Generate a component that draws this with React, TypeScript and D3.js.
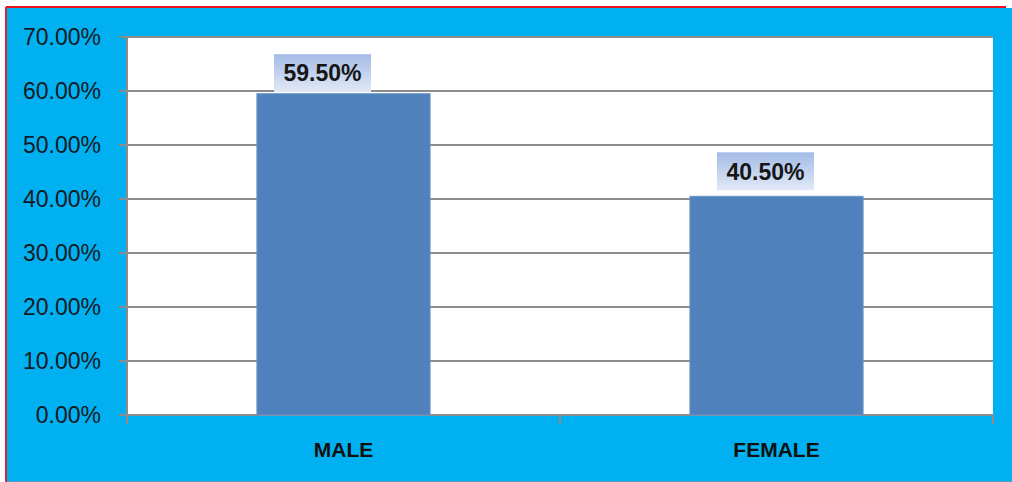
import React from "react";
import * as d3 from "d3";

const categories: string[] = ["MALE", "FEMALE"];
const values: number[] = [59.5, 40.5];
const yTicks: number[] = [0, 10, 20, 30, 40, 50, 60, 70];

const W = 1012;
const H = 482;
const plot = { left: 127, top: 37, right: 993, bottom: 415 };
// label nudges (layout only), as placed in the reference
const labelDx = [-21, -11];
const labelGap = [1.5, 6];

export default function App() {
  const x = d3
    .scaleBand<string>()
    .domain(categories)
    .range([plot.left, plot.right])
    .paddingInner(0.6)
    .paddingOuter(0.3);
  const y = d3.scaleLinear().domain([0, 70]).range([plot.bottom, plot.top]);
  const band = (plot.right - plot.left) / categories.length;
  const fmt = (v: number) => v.toFixed(2) + "%";
  const font = "'Liberation Sans', Arial, sans-serif";

  return (
    <div style={{ position: "absolute", left: 0, top: 0 }}>
      <svg width={W} height={H} style={{ display: "block" }}>
        <defs>
          <linearGradient id="lbl" x1="0" y1="0" x2="0" y2="1">
            <stop offset="0" stopColor="#a3bbe6" />
            <stop offset="1" stopColor="#e2e9f7" />
          </linearGradient>
        </defs>
        <rect x={0} y={0} width={W} height={H} fill="#ffffff" />
        <rect x={7} y={8} width={W - 7} height={H - 8} fill="#00b0f0" />
        <line x1={6} y1={7} x2={1006} y2={7} stroke="#e8141c" strokeWidth={2} />
        <line x1={6} y1={7} x2={6} y2={H} stroke="#d8262c" strokeWidth={2} />
        <line x1={7} y1={H - 0.5} x2={W} y2={H - 0.5} stroke="#5a9ec4" strokeWidth={1} />

        <rect
          x={plot.left}
          y={plot.top}
          width={plot.right - plot.left}
          height={plot.bottom - plot.top}
          fill="#ffffff"
        />
        {yTicks.map((t) => (
          <g key={t}>
            <line
              x1={plot.left - 8}
              x2={plot.right}
              y1={y(t)}
              y2={y(t)}
              stroke="#8c8c8c"
              strokeWidth={2}
            />
            <text
              x={101}
              y={y(t)}
              dy="0.36em"
              textAnchor="end"
              fontFamily={font}
              fontSize={23}
              fill="#161a24"
            >
              {fmt(t)}
            </text>
          </g>
        ))}
        <line
          x1={plot.left}
          x2={plot.left}
          y1={plot.top}
          y2={plot.bottom + 8}
          stroke="#8c8c8c"
          strokeWidth={2}
        />
        {[0, 1, 2].map((i) => (
          <line
            key={i}
            x1={plot.left + i * band}
            x2={plot.left + i * band}
            y1={plot.bottom}
            y2={plot.bottom + 9}
            stroke="#8c8c8c"
            strokeWidth={2}
          />
        ))}

        {categories.map((c, i) => {
          const bx = x(c)!;
          const bw = x.bandwidth();
          const top = y(values[i]);
          const cx = bx + bw / 2;
          const lx = cx + labelDx[i];
          const boxW = 97;
          const boxH = 38;
          const boxTop = top - labelGap[i] - boxH;
          return (
            <g key={c}>
              <rect
                x={bx}
                y={top}
                width={bw}
                height={plot.bottom - top}
                fill="#4f81bd"
                stroke="#6d95c8"
                strokeWidth={1}
              />
              <rect
                x={lx - boxW / 2}
                y={boxTop}
                width={boxW}
                height={boxH}
                fill="url(#lbl)"
              />
              <text
                x={lx}
                y={boxTop + boxH / 2}
                dy="0.36em"
                textAnchor="middle"
                fontFamily={font}
                fontSize={23}
                fontWeight="bold"
                fill="#161616"
              >
                {fmt(values[i])}
              </text>
              <text
                x={cx}
                y={457}
                textAnchor="middle"
                fontFamily={font}
                fontSize={21}
                fontWeight="bold"
                fill="#111111"
              >
                {c}
              </text>
            </g>
          );
        })}
      </svg>
    </div>
  );
}
